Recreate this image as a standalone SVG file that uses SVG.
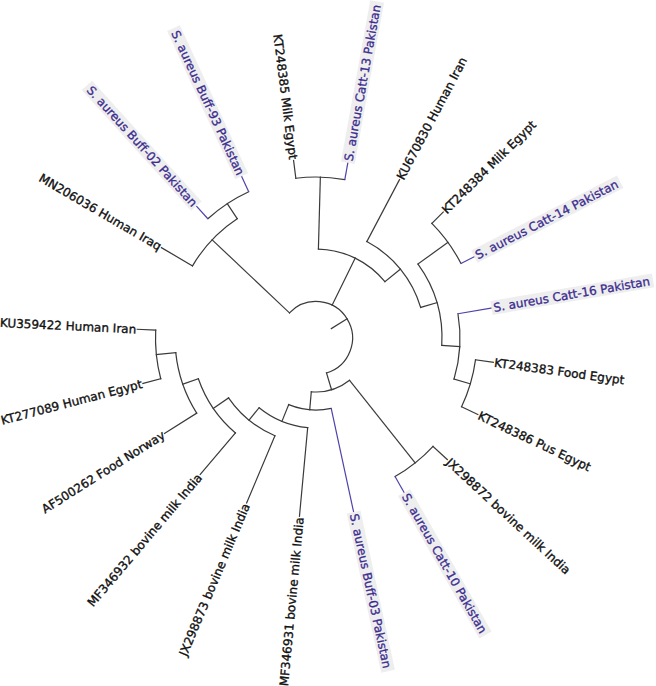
<svg xmlns="http://www.w3.org/2000/svg" width="656" height="686" viewBox="0 0 656 686">
<style>
.br{fill:none;stroke:#3a3a3a;stroke-width:1.2;stroke-linecap:square}
.pk{fill:none;stroke:#4d43ab;stroke-width:1.2}
.lb{font-family:"DejaVu Sans","Liberation Sans",sans-serif;font-size:12px;fill:#111;stroke:#111;stroke-width:0.35}
.lp{font-family:"DejaVu Sans","Liberation Sans",sans-serif;font-size:12px;fill:#3b2c8f;stroke:#3b2c8f;stroke-width:0.3}
.hl{fill:#eeeeee}
.r{text-anchor:start}
.l{text-anchor:end}
</style>
<rect width="656" height="686" fill="#fff"/>
<g id="connectors">
<path class="br" d="M331.32,328.56 L347.07,318.85"/>
<path class="br" d="M289.48,312.92 A36.5,36.5 0 1 1 326.49,372.96"/>
<path class="br" d="M289.48,312.92 L212.10,239.74"/>
<path class="br" d="M192.53,265.86 A143,143 0 0 1 237.18,218.68"/>
<path class="br" d="M192.53,265.86 L161.45,247.69"/>
<path class="br" d="M237.18,218.68 L227.26,203.66"/>
<path class="br" d="M207.86,218.73 A161,161 0 0 1 248.72,191.73"/>
<path class="pk" d="M207.86,218.73 L195.77,205.40"/>
<path class="pk" d="M248.72,191.73 L241.20,175.38"/>
<path class="br" d="M332.09,305.23 L355.23,258.10"/>
<path class="br" d="M318.40,249.04 A89,89 0 0 1 384.92,281.69"/>
<path class="br" d="M318.40,249.04 L320.35,177.06"/>
<path class="br" d="M295.83,178.27 A161,161 0 0 1 344.79,179.59"/>
<path class="br" d="M295.83,178.27 L293.57,160.41"/>
<path class="pk" d="M344.79,179.59 L348.01,161.88"/>
<path class="br" d="M384.92,281.69 L400.41,269.04"/>
<path class="br" d="M366.84,241.59 A109,109 0 0 1 420.62,307.40"/>
<path class="br" d="M366.84,241.59 L399.49,179.67"/>
<path class="br" d="M420.62,307.40 L436.93,302.63"/>
<path class="br" d="M418.00,264.03 A126,126 0 0 1 441.77,345.47"/>
<path class="br" d="M418.00,264.03 L447.95,242.30"/>
<path class="br" d="M431.86,223.35 A163,163 0 0 1 460.97,263.49"/>
<path class="br" d="M431.86,223.35 L443.23,212.09"/>
<path class="pk" d="M460.97,263.49 L475.20,256.18"/>
<path class="br" d="M441.77,345.47 L459.74,346.54"/>
<path class="br" d="M457.94,313.74 A144,144 0 0 1 454.04,379.01"/>
<path class="pk" d="M457.94,313.74 L492.44,307.84"/>
<path class="br" d="M454.04,379.01 L470.33,383.85"/>
<path class="br" d="M475.50,359.85 A161,161 0 0 1 461.56,406.81"/>
<path class="br" d="M475.50,359.85 L493.34,362.29"/>
<path class="br" d="M461.56,406.81 L477.83,414.50"/>
<path class="br" d="M326.49,372.96 L331.52,389.72"/>
<path class="br" d="M349.58,380.29 A54,54 0 0 1 311.29,391.79"/>
<path class="br" d="M349.58,380.29 L415.18,462.91"/>
<path class="br" d="M433.03,446.36 A159.5,159.5 0 0 1 395.03,476.54"/>
<path class="br" d="M433.03,446.36 L447.33,459.61"/>
<path class="pk" d="M395.03,476.54 L404.69,493.48"/>
<path class="br" d="M311.29,391.79 L309.72,409.73"/>
<path class="br" d="M331.21,408.37 A72,72 0 0 1 288.74,404.64"/>
<path class="pk" d="M331.21,408.37 L353.82,512.95"/>
<path class="br" d="M288.74,404.64 L281.93,421.30"/>
<path class="br" d="M307.68,427.61 A90,90 0 0 1 259.12,407.74"/>
<path class="br" d="M307.68,427.61 L299.46,516.23"/>
<path class="br" d="M259.12,407.74 L249.01,420.14"/>
<path class="br" d="M274.92,435.72 A106,106 0 0 1 228.54,397.89"/>
<path class="br" d="M274.92,435.72 L246.64,503.02"/>
<path class="br" d="M228.54,397.89 L213.28,408.34"/>
<path class="br" d="M235.47,432.95 A124.5,124.5 0 0 1 198.36,378.74"/>
<path class="br" d="M235.47,432.95 L200.22,474.51"/>
<path class="br" d="M198.36,378.74 L182.77,384.14"/>
<path class="br" d="M196.69,413.14 A141,141 0 0 1 175.76,352.62"/>
<path class="br" d="M196.69,413.14 L164.53,433.39"/>
<path class="br" d="M175.76,352.62 L156.37,354.64"/>
<path class="br" d="M160.75,378.73 A160.5,160.5 0 0 1 155.69,330.17"/>
<path class="br" d="M160.75,378.73 L142.85,383.43"/>
<path class="br" d="M155.69,330.17 L137.21,329.26"/>
</g>
<g id="tip-MN206036" transform="rotate(30.3 316 338)"><text class="lb l" x="136" y="338" dy="4.3">MN206036 Human Iraq</text></g>
<g id="tip-Buff-02" transform="rotate(47.8 316 338)"><rect class="hl" x="-25" y="331" width="163" height="14"/><text class="lp l" x="136" y="338" dy="4.3">S. aureus Buff-02 Pakistan</text></g>
<g id="tip-Buff-93" transform="rotate(65.3 316 338)"><rect class="hl" x="-25" y="331" width="163" height="14"/><text class="lp l" x="136" y="338" dy="4.3">S. aureus Buff-93 Pakistan</text></g>
<g id="tip-KT248385" transform="rotate(82.8 316 338)"><text class="lb l" x="136" y="338" dy="4.3">KT248385 Milk Egypt</text></g>
<g id="tip-Catt-13" transform="rotate(-79.7 316 338)"><rect class="hl" x="494" y="331" width="164" height="14"/><text class="lp r" x="496" y="338" dy="4.3">S. aureus Catt-13 Pakistan</text></g>
<g id="tip-KU670830" transform="rotate(-62.2 316 338)"><text class="lb r" x="496" y="338" dy="4.3">KU670830 Human Iran</text></g>
<g id="tip-KT248384" transform="rotate(-44.7 316 338)"><text class="lb r" x="496" y="338" dy="4.3">KT248384 Milk Egypt</text></g>
<g id="tip-Catt-14" transform="rotate(-27.2 316 338)"><rect class="hl" x="494" y="331" width="164" height="14"/><text class="lp r" x="496" y="338" dy="4.3">S. aureus Catt-14 Pakistan</text></g>
<g id="tip-Catt-16" transform="rotate(-9.7 316 338)"><rect class="hl" x="494" y="331" width="164" height="14"/><text class="lp r" x="496" y="338" dy="4.3">S. aureus Catt-16 Pakistan</text></g>
<g id="tip-KT248383" transform="rotate(7.8 316 338)"><text class="lb r" x="496" y="338" dy="4.3">KT248383 Food Egypt</text></g>
<g id="tip-KT248386" transform="rotate(25.3 316 338)"><text class="lb r" x="496" y="338" dy="4.3">KT248386 Pus Egypt</text></g>
<g id="tip-JX298872" transform="rotate(42.8 316 338)"><text class="lb r" x="496" y="338" dy="4.3">JX298872 bovine milk India</text></g>
<g id="tip-Catt-10" transform="rotate(60.3 316 338)"><rect class="hl" x="494" y="331" width="164" height="14"/><text class="lp r" x="496" y="338" dy="4.3">S. aureus Catt-10 Pakistan</text></g>
<g id="tip-Buff-03" transform="rotate(77.8 316 338)"><rect class="hl" x="494" y="331" width="163" height="14"/><text class="lp r" x="496" y="338" dy="4.3">S. aureus Buff-03 Pakistan</text></g>
<g id="tip-MF346931" transform="rotate(-84.7 316 338)"><text class="lb l" x="136" y="338" dy="4.3">MF346931 bovine milk India</text></g>
<g id="tip-JX298873" transform="rotate(-67.2 316 338)"><text class="lb l" x="136" y="338" dy="4.3">JX298873 bovine milk India</text></g>
<g id="tip-MF346932" transform="rotate(-49.7 316 338)"><text class="lb l" x="136" y="338" dy="4.3">MF346932 bovine milk India</text></g>
<g id="tip-AF500262" transform="rotate(-32.2 316 338)"><text class="lb l" x="136" y="338" dy="4.3">AF500262 Food Norway</text></g>
<g id="tip-KT277089" transform="rotate(-14.7 316 338)"><text class="lb l" x="136" y="338" dy="4.3">KT277089 Human Egypt</text></g>
<g id="tip-KU359422" transform="rotate(2.8 316 338)"><text class="lb l" x="136" y="338" dy="4.3">KU359422 Human Iran</text></g>
</svg>
